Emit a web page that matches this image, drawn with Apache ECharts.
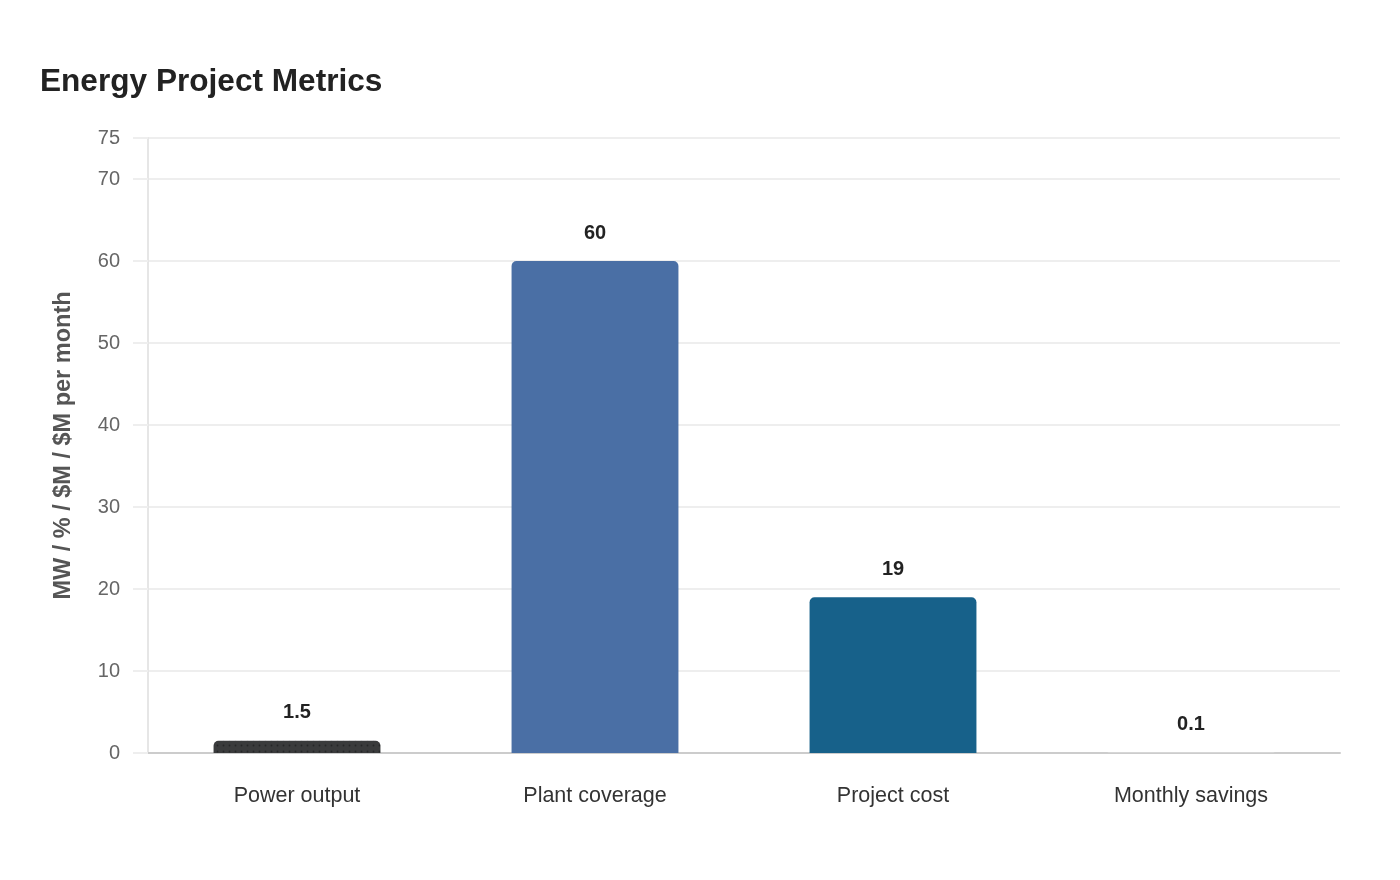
<!DOCTYPE html>
<html><head><meta charset="utf-8">
<script src="https://cdn.jsdelivr.net/npm/echarts@6/dist/echarts.min.js"></script>
<style>html,body{margin:0;padding:0;background:#fff}#c{width:1400px;height:880px}</style>
</head><body><div id="c"></div>
<script>
const categories = ['Power output', 'Plant coverage', 'Project cost', 'Monthly savings'];
const values = [1.5, 60, 19, 0.1];
const labels = ['1.5', '60', '19', '0.1'];
const colors = ['#3a3b3c', '#4a6fa5', '#17618a', '#d9d9d9'];
const yTicks = [0, 10, 20, 30, 40, 50, 60, 70, 75];

const chart = echarts.init(document.getElementById('c'));
chart.setOption({
  backgroundColor: '#fff',
  animation: false,
  title: {
    text: 'Energy Project Metrics', left: 35, top: 61,
    textStyle: { fontFamily: 'Liberation Sans', fontSize: 31.6, fontWeight: 'bold', color: '#222' }
  },
  grid: { left: 148, right: 60, top: 138, bottom: 127 },
  xAxis: {
    type: 'category', data: categories,
    axisLine: { show: true, lineStyle: { color: '#cccccc', width: 2 } },
    axisTick: { show: false },
    axisLabel: { margin: 32, fontFamily: 'Liberation Sans', fontSize: 21.5, color: '#333' }
  },
  yAxis: {
    type: 'value', min: 0, max: 75, interval: 10,
    name: 'MW / % / $M / $M per month', nameLocation: 'middle', nameGap: 72,
    nameTextStyle: { fontFamily: 'Liberation Sans', fontSize: 23.5, fontWeight: 'bold', color: '#555' },
    axisLine: { show: true, lineStyle: { color: '#e6e6e6', width: 2 } },
    splitLine: { show: true, lineStyle: { color: '#eeeeee', width: 2 } },
    axisLabel: {
      margin: 28, fontFamily: 'Liberation Sans', fontSize: 20, color: '#666',
      showMaxLabel: true,
      customValues: yTicks
    },
    axisTick: { show: true, length: 15, lineStyle: { color: '#eeeeee', width: 2 }, customValues: yTicks }
  },
  series: [{
    type: 'bar',
    barWidth: '56%',
    z: 5,
    data: values.map((v, i) => ({
      value: v,
      itemStyle: Object.assign({ color: colors[i], borderRadius: [5, 5, 0, 0] },
        i === 0 ? { decal: { symbol: 'circle', symbolSize: 0.6, dashArrayX: 3, dashArrayY: 3, color: 'rgba(0,0,0,0.35)' } } : {}),
      label: { formatter: labels[i] }
    })),
    label: {
      show: true, position: 'top', distance: 18,
      fontFamily: 'Liberation Sans', fontSize: 20, fontWeight: 'bold', color: '#222'
    }
  }]
});
</script></body></html>
